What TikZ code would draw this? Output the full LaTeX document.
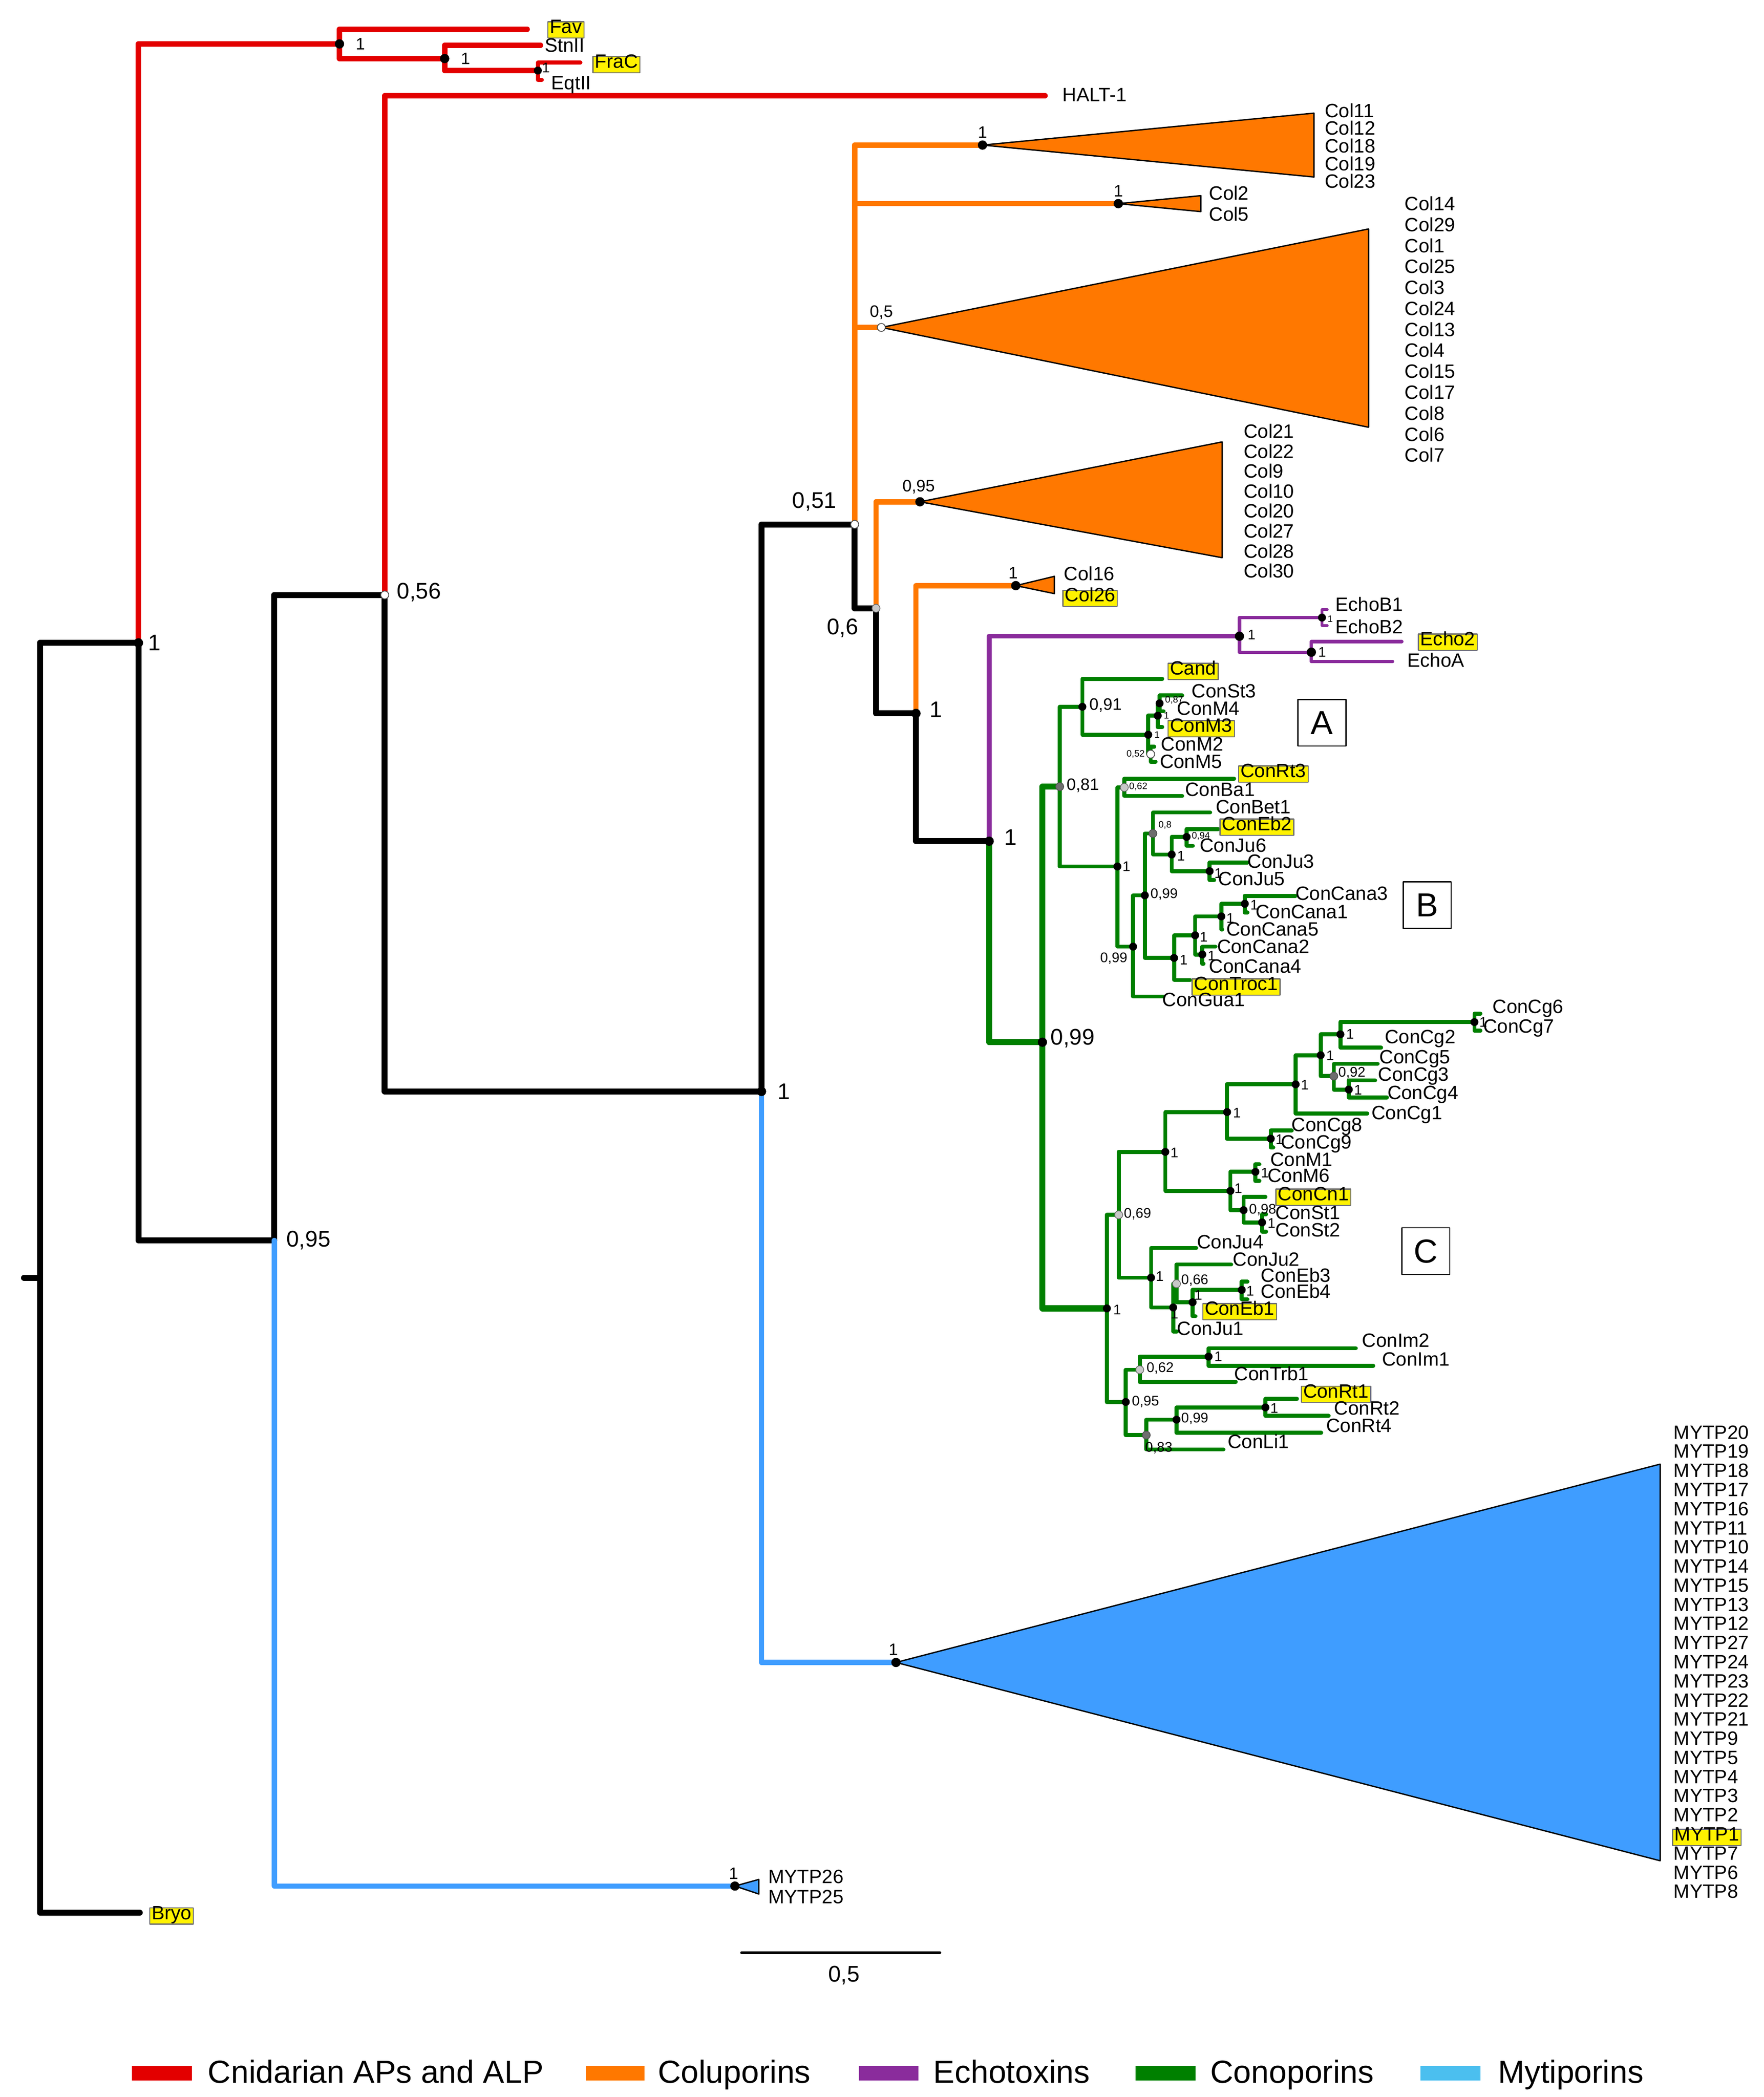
\documentclass[tikz,border=0pt]{standalone}
\usepackage{fontspec}
\setmainfont{Liberation Sans}
\definecolor{cred}{HTML}{E30000}
\definecolor{cor}{HTML}{FF7800}
\definecolor{cpu}{HTML}{8A2C9C}
\definecolor{cgr}{HTML}{008000}
\definecolor{cbl}{HTML}{3F9DFF}
\definecolor{clb}{HTML}{4BBFEF}
\definecolor{cgy}{HTML}{6E6E6E}
\definecolor{clg}{HTML}{C8C8C8}
\newcommand\cn[3]{\coordinate (#1) at (#2,#3);}
\newcommand\br[3][]{\draw[#1] (#2) |- (#3);}
\newcommand\fL{\fontsize{17}{17}\selectfont}
\newcommand\fM{\fontsize{12.5}{12.5}\selectfont}
\newcommand\fS{\fontsize{10.5}{10.5}\selectfont}
\newcommand\fT{\fontsize{7}{7}\selectfont}
\newcommand\fTip{\fontsize{14.5}{14.5}\selectfont}
\tikzset{
 every path/.style={line cap=round,line join=round},
 K/.style={line width=4.5pt,black},
 R/.style={line width=4pt,cred},
 O/.style={line width=4pt,cor},
 P/.style={line width=3.5pt,cpu},
 G/.style={line width=4.5pt,cgr},
 g/.style={line width=3pt,cgr},
 B/.style={line width=4pt,cbl},
 lab/.style={anchor=west,font=\fTip,inner sep=1pt,text height=0.72em,text depth=0.2em,yshift=-1.5pt},
 hl/.style={lab,fill=yellow,draw=cgy,line width=0.8pt,inner sep=1.5pt},
 sup/.style={anchor=west,inner sep=1pt},
 tri/.style={draw=black,line width=1pt}
}
\begin{document}
\begin{tikzpicture}[x=1pt,y=-1pt]
\useasboundingbox (0,0) rectangle (1325,1575.5);
% ---------- coordinates
\cn{root}{30}{960}\cn{rs}{18}{960}
\cn{n1}{104}{483}\cn{bryo}{105}{1437}
\cn{nfav}{255}{33}\cn{tfav}{396}{22}\cn{nstn}{334}{44}\cn{tstn}{406}{34}
\cn{neqt}{404}{53}\cn{tfrac}{436}{47}\cn{teqt}{407}{60}
\cn{n095}{206}{932}\cn{n056}{289}{447}\cn{thalt}{785}{72}
\cn{n572}{572}{820}\cn{n051}{642}{394}
\cn{c1}{738}{109}\cn{c2}{840}{153}\cn{c3}{662}{246}
\cn{n06}{658}{457}\cn{c4}{691}{377}\cn{n688}{688}{536}\cn{c5}{763}{440}
\cn{n743}{743}{632}
\cn{e1}{931}{478}\cn{eb}{993}{464}\cn{techb1}{997}{458}\cn{techb2}{997}{470}
\cn{ea}{985}{490}\cn{te2}{1053}{482}\cn{tea}{1046}{497}
\cn{n099}{783}{783}
\cn{n081}{796}{591}\cn{n091}{813}{531}\cn{tcand}{873}{510}
\cn{nm}{862.5}{552}\cn{na}{869.6}{537.7}\cn{n087}{871}{528.4}
\cn{tst3}{888}{522.5}\cn{tm4}{874}{534.3}\cn{tm3}{873}{546.2}
\cn{nb}{864.3}{566.6}\cn{tm2}{867}{561}\cn{tm5}{868}{572.3}
\cn{nB}{839.3}{651}\cn{n062}{844.5}{591.6}\cn{trt3}{927}{585.1}\cn{tba1}{888}{598}
\cn{nB2}{851.1}{711.2}\cn{nB3}{859.9}{672.7}
\cn{n08}{866}{626.2}\cn{tbet1}{909}{610.4}
\cn{nj}{880.1}{642}\cn{n094}{891.3}{628.8}\cn{teb2x}{915}{622.9}\cn{tju6}{896}{635.5}
\cn{nj35}{908.6}{654.5}\cn{tju3}{937}{648}\cn{tju5}{912}{661.2}
\cn{nc}{881.9}{719.7}\cn{nc1}{897.7}{702.7}\cn{nc2}{917.4}{688.5}\cn{nc3}{935}{679}
\cn{tca3}{973}{673.1}\cn{tca1}{937}{685.5}\cn{tca5}{918}{698.4}
\cn{nc4}{903.1}{717.1}\cn{tca2}{913}{711.2}\cn{tca4}{904}{724}
\cn{ttroc}{894}{736.3}\cn{tgua}{874}{748.7}
\cn{nC}{831.4}{983}\cn{n069}{840.3}{912.7}\cn{nq}{875.3}{865.4}
\cn{nq1}{921.7}{835.5}\cn{nq2}{973.2}{814.7}\cn{nq3}{992}{792.8}\cn{nq4}{1006.8}{777.1}
\cn{nq5}{1107.5}{767.9}\cn{tcg6}{1112}{761.7}\cn{tcg7}{1112}{774.4}\cn{tcg2}{1037.4}{787.1}
\cn{n092}{1001.9}{808.5}\cn{tcg5}{1034.8}{799.3}\cn{nq6}{1013.1}{818.6}
\cn{tcg3}{1032.9}{811.7}\cn{tcg4}{1041.8}{824.6}\cn{tcg1}{1027}{836.6}
\cn{nq7}{954.5}{855.5}\cn{tcg8}{970.3}{849.3}\cn{tcg9}{956.4}{862}
\cn{nm1}{924.2}{894.7}\cn{nm2}{943}{880.4}\cn{tm1}{946}{874.6}\cn{tm6}{946}{887.3}
\cn{n098}{934.1}{909.2}\cn{tcn1}{950.5}{899.3}\cn{nst}{948}{918.4}\cn{tst1}{951}{912.2}\cn{tst2}{951}{925.4}
\cn{nj4}{864.6}{959.9}\cn{tju4}{898.6}{937.6}\cn{nj1}{881.2}{982.3}\cn{n066}{883.7}{964.5}
\cn{tju1}{884}{1000.3}\cn{tju2}{924.8}{950}\cn{ne1}{895.8}{978.4}\cn{ne34}{932.7}{969.1}
\cn{teb3}{937}{962.9}\cn{teb4}{937}{976.1}\cn{tconeb1}{898}{988.8}
\cn{n095c}{845.6}{1053.3}\cn{n062c}{856.1}{1029.1}\cn{nim}{907.8}{1019.2}
\cn{tim2}{1018.4}{1012.9}\cn{tim1}{1031.5}{1026.1}\cn{ttrb}{928.2}{1038.3}
\cn{n083}{861}{1078.2}\cn{nr}{883.7}{1066.6}\cn{nr1}{950.5}{1057.4}
\cn{trt1}{974.2}{1051}\cn{trt2}{998}{1063.7}\cn{trt4}{992.4}{1076.4}\cn{tli}{919}{1089}
\cn{my}{673}{1249}\cn{my2}{552}{1417}
% ---------- branches
\draw[K] (rs) -- (root);
\br[K]{root}{n1}\br[K]{root}{bryo}
\br[R]{n1}{nfav}\br[K]{n1}{n095}
\br[R]{nfav}{tfav}\br[R]{nfav}{nstn}\br[R]{nstn}{tstn}\br[R]{nstn}{neqt}
\br[R,line width=3pt]{neqt}{tfrac}\br[R,line width=3pt]{neqt}{teqt}
\br[K]{n095}{n056}\br[B]{n095}{my2}
\br[R]{n056}{thalt}\br[K]{n056}{n572}
\br[K]{n572}{n051}\br[B]{n572}{my}
\br[O]{n051}{c1}\br[O]{n051}{c2}\br[O]{n051}{c3}\br[K]{n051}{n06}
\br[O]{n06}{c4}\br[K]{n06}{n688}
\br[O]{n688}{c5}\br[K]{n688}{n743}
\br[P]{n743}{e1}\br[G]{n743}{n099}
\br[P,line width=2.5pt]{e1}{eb}\br[P,line width=2.5pt]{e1}{ea}
\br[P,line width=2pt]{eb}{techb1}\br[P,line width=2pt]{eb}{techb2}
\br[P,line width=2.5pt]{ea}{te2}\br[P,line width=2.5pt]{ea}{tea}
\br[G]{n099}{n081}\br[G]{n099}{nC}
% A/B
\br[g]{n081}{n091}\br[g]{n081}{nB}
\br[g]{n091}{tcand}\br[g]{n091}{nm}
\br[g]{nm}{na}\br[g]{nm}{nb}\br[g]{na}{n087}\br[g]{na}{tm3}
\br[g]{n087}{tst3}\br[g]{n087}{tm4}\br[g]{nb}{tm2}\br[g]{nb}{tm5}
\br[g]{nB}{n062}\br[g]{nB}{nB2}\br[g]{n062}{trt3}\br[g]{n062}{tba1}
\br[g]{nB2}{nB3}\br[g]{nB2}{tgua}
\br[g]{nB3}{n08}\br[g]{nB3}{nc}
\br[g]{n08}{tbet1}\br[g]{n08}{nj}
\br[g]{nj}{n094}\br[g]{nj}{nj35}\br[g]{n094}{teb2x}\br[g]{n094}{tju6}
\br[g]{nj35}{tju3}\br[g]{nj35}{tju5}
\br[g]{nc}{nc1}\br[g]{nc}{ttroc}\br[g]{nc1}{nc2}\br[g]{nc1}{nc4}
\br[g]{nc2}{nc3}\br[g]{nc2}{tca5}\br[g]{nc3}{tca3}\br[g]{nc3}{tca1}
\br[g]{nc4}{tca2}\br[g]{nc4}{tca4}
% C
\br[g]{nC}{n069}\br[g]{nC}{n095c}
\br[g]{n069}{nq}\br[g]{n069}{nj4}
\br[g]{nq}{nq1}\br[g]{nq}{nm1}
\br[g]{nq1}{nq2}\br[g]{nq1}{nq7}
\br[g]{nq2}{nq3}\br[g]{nq2}{tcg1}
\br[g]{nq3}{nq4}\br[g]{nq3}{n092}
\br[g]{nq4}{nq5}\br[g]{nq4}{tcg2}\br[g]{nq5}{tcg6}\br[g]{nq5}{tcg7}
\br[g]{n092}{tcg5}\br[g]{n092}{nq6}\br[g]{nq6}{tcg3}\br[g]{nq6}{tcg4}
\br[g]{nq7}{tcg8}\br[g]{nq7}{tcg9}
\br[g]{nm1}{nm2}\br[g]{nm1}{n098}\br[g]{nm2}{tm1}\br[g]{nm2}{tm6}
\br[g]{n098}{tcn1}\br[g]{n098}{nst}\br[g]{nst}{tst1}\br[g]{nst}{tst2}
\br[g]{nj4}{tju4}\br[g]{nj4}{nj1}
\br[g]{nj1}{n066}\br[g]{nj1}{tju1}
\br[g]{n066}{tju2}\br[g]{n066}{ne1}
\br[g]{ne1}{ne34}\br[g]{ne1}{tconeb1}\br[g]{ne34}{teb3}\br[g]{ne34}{teb4}
\br[g]{n095c}{n062c}\br[g]{n095c}{n083}
\br[g]{n062c}{nim}\br[g]{n062c}{ttrb}\br[g]{nim}{tim2}\br[g]{nim}{tim1}
\br[g]{n083}{nr}\br[g]{n083}{tli}
\br[g]{nr}{nr1}\br[g]{nr}{trt4}\br[g]{nr1}{trt1}\br[g]{nr1}{trt2}
% ---------- triangles
\filldraw[tri,fill=cor] (c1) -- (987,85) -- (987,133) -- cycle;
\filldraw[tri,fill=cor] (c2) -- (902,147) -- (902,159) -- cycle;
\filldraw[tri,fill=cor] (c3) -- (1028,172) -- (1028,321) -- cycle;
\filldraw[tri,fill=cor] (c4) -- (918,332) -- (918,419) -- cycle;
\filldraw[tri,fill=cor] (c5) -- (792,433) -- (792,446) -- cycle;
\filldraw[tri,fill=cbl] (my) -- (1247,1100) -- (1247,1398) -- cycle;
\filldraw[tri,fill=cbl] (my2) -- (570,1412) -- (570,1423) -- cycle;
% ---------- node dots
\foreach \p in {n1,n572,n688,n743,n099,nfav,nstn,c1,c2,c4,c5,e1,ea,my,my2}{\fill[black] (\p) circle (3.5pt);}
\foreach \p in {neqt,eb,n091,nm,na,nB,nB2,nB3,nj,n094,nj35,nc,nc1,nc2,nc3,nc4,nC,nq,nq1,nq2,nq3,nq4,nq5,nq6,nq7,nm1,nm2,n098,nst,nj4,nj1,ne1,ne34,nim,nr,nr1,n095c,n087}{\fill[black] (\p) circle (3pt);}
\foreach \p in {n081,n08,n092,n083}{\filldraw[fill=cgy,draw=black!70,line width=0.5pt] (\p) circle (3pt);}
\foreach \p in {n062,n069,n066,n062c,n06}{\filldraw[fill=clg,draw=black!60,line width=0.5pt] (\p) circle (3pt);}
\foreach \p in {n051,n056,c3,nb}{\filldraw[fill=white,draw=black!70,line width=0.6pt] (\p) circle (3pt);}
% ---------- support values
\node[sup,font=\fL] (s1) at (110,483) {1};
\node[sup,font=\fL] (s2) at (214,932) {0,95};
\node[sup,font=\fL] (s3) at (297,445) {0,56};
\node[sup,font=\fL] (s4) at (583,820) {1};
\node[sup,font=\fL] (s5) at (594,377) {0,51};
\node[sup,font=\fL] (s6) at (620,472) {0,6};
\node[sup,font=\fL] (s7) at (697,533) {1};
\node[sup,font=\fL] (s8) at (753,629) {1};
\node[sup,font=\fL] (s9) at (788,780) {0,99};
\node[sup,font=\fM] (s10) at (266,33) {1};
\node[sup,font=\fM] (s11) at (345,44) {1};
\node[sup,font=\fS] (s12) at (406,51) {1};
\node[sup,font=\fM,anchor=south] (s13) at (738,105) {1};
\node[sup,font=\fM,anchor=south] (s14) at (840,149) {1};
\node[sup,font=\fM,anchor=south] (s15) at (662,241) {0,5};
\node[sup,font=\fM,anchor=south] (s16) at (690,372) {0,95};
\node[sup,font=\fM,anchor=south] (s17) at (761,436) {1};
\node[sup,font=\fM,anchor=south] (s18) at (671,1245) {1};
\node[sup,font=\fM,anchor=south] (s19) at (551,1413) {1};
\node[sup,font=\fS] (s20) at (936,477) {1};
\node[sup,font=\fT] (s21) at (996,465) {1};
\node[sup,font=\fS] (s22) at (989,490) {1};
\node[sup,font=\fM] (s23) at (817,530) {0,91};
\node[sup,font=\fM] (s24) at (800,590) {0,81};
\node[sup,font=\fT] (s25) at (874,526) {0,87};
\node[sup,font=\fT] (s26) at (873,537.5) {1};
\node[sup,font=\fT] (s27) at (866,552) {1};
\node[sup,font=\fT,anchor=east] (s28) at (861,566.6) {0,52};
\node[sup,font=\fT] (s29) at (847,591) {0,62};
\node[sup,font=\fS] (s30) at (842,651) {1};
\node[sup,font=\fS,anchor=east] (s31) at (848,720) {0,99};
\node[sup,font=\fS] (s32) at (863,672) {0,99};
\node[sup,font=\fT] (s33) at (869,620) {0,8};
\node[sup,font=\fT] (s34) at (894,628) {0,94};
\node[sup,font=\fS] (s35) at (883,643) {1};
\node[sup,font=\fS] (s36) at (911,656) {1};
\node[sup,font=\fS] (s37) at (938,680) {1};
\node[sup,font=\fS] (s38) at (920,690) {1};
\node[sup,font=\fS] (s39) at (900,704) {1};
\node[sup,font=\fS] (s40) at (906,718) {1};
\node[sup,font=\fS] (s41) at (885,721) {1};
\node[sup,font=\fS] (s42) at (835,984) {1};
\node[sup,font=\fS] (s43) at (843,912) {0,69};
\node[sup,font=\fS] (s44) at (878,866) {1};
\node[sup,font=\fS] (s45) at (925,836) {1};
\node[sup,font=\fS] (s46) at (976,815) {1};
\node[sup,font=\fS] (s47) at (995,793) {1};
\node[sup,font=\fS] (s48) at (1010,777) {1};
\node[sup,font=\fS] (s49) at (1110,768) {1};
\node[sup,font=\fS] (s50) at (1004,806) {0,92};
\node[sup,font=\fS] (s51) at (1016,819) {1};
\node[sup,font=\fS] (s52) at (957,856) {1};
\node[sup,font=\fS] (s53) at (926,893) {1};
\node[sup,font=\fS] (s54) at (946,881) {1};
\node[sup,font=\fS] (s55) at (937,909) {0,98};
\node[sup,font=\fS] (s56) at (951,919) {1};
\node[sup,font=\fS] (s57) at (867,959) {1};
\node[sup,font=\fS] (s58) at (886,962) {0,66};
\node[sup,font=\fS] (s59) at (935,970) {1};
\node[sup,font=\fS] (s60) at (896,973) {1};
\node[sup,font=\fS] (s61) at (878,987) {1};
\node[sup,font=\fS] (s62) at (911,1019) {1};
\node[sup,font=\fS] (s63) at (860,1028) {0,62};
\node[sup,font=\fS] (s64) at (849,1053) {0,95};
\node[sup,font=\fS] (s65) at (953,1058) {1};
\node[sup,font=\fS] (s66) at (886,1066) {0,99};
\node[sup,font=\fS] (s67) at (859,1088) {0,83};
% ---------- tip labels
\node[hl] (lfav) at (411,21) {Fav};
\node[lab] (lstn) at (408,35) {StnII};
\node[hl] (lfrac) at (445,47) {FraC};
\node[lab] (leqt) at (413,63) {EqtII};
\node[lab] (lhalt) at (797,72) {HALT-1};
\node[hl] (lbryo) at (112,1438) {Bryo};
\foreach \t [count=\i from 0] in {Col11,Col12,Col18,Col19,Col23}{\node[lab] at (994,84+\i*13.3) {\t};}
\node[lab] (lc2) at (907,146) {Col2};
\node[lab] (lc5) at (907,162) {Col5};
\foreach \t [count=\i from 0] in {Col14,Col29,Col1,Col25,Col3,Col24,Col13,Col4,Col15,Col17,Col8,Col6,Col7}{\node[lab] at (1054,154+\i*15.75) {\t};}
\foreach \t [count=\i from 0] in {Col21,Col22,Col9,Col10,Col20,Col27,Col28,Col30}{\node[lab] at (933,325+\i*15) {\t};}
\node[lab] (lc16) at (798,432) {Col16};
\node[hl] (lc26) at (798,448) {Col26};
\node[lab] (leb1) at (1002,455) {EchoB1};
\node[lab] (leb2) at (1002,472) {EchoB2};
\node[hl] (le2) at (1065,481) {Echo2};
\node[lab] (lea) at (1056,497) {EchoA};
\node[hl] (lcand) at (877,503) {Cand};
\node[lab] (l1) at (894,520) {ConSt3};
\node[lab] (l2) at (883,533) {ConM4};
\node[hl] (l3) at (877,546) {ConM3};
\node[lab] (l4) at (871,560) {ConM2};
\node[lab] (l5) at (870,573) {ConM5};
\node[hl] (l6) at (930,580) {ConRt3};
\node[lab] (l7) at (889,594) {ConBa1};
\node[lab] (l8) at (912,607) {ConBet1};
\node[hl] (l9) at (916,620) {ConEb2};
\node[lab] (l10) at (900,636) {ConJu6};
\node[lab] (l11) at (936,648) {ConJu3};
\node[lab] (l12) at (914,661) {ConJu5};
\node[lab] (l13) at (972,672) {ConCana3};
\node[lab] (l14) at (942,686) {ConCana1};
\node[lab] (l15) at (920,699) {ConCana5};
\node[lab] (l16) at (913,712) {ConCana2};
\node[lab] (l17) at (907,727) {ConCana4};
\node[hl] (l18) at (895,740) {ConTroc1};
\node[lab] (l19) at (872,752) {ConGua1};
\node[lab] (l20) at (1120,757) {ConCg6};
\node[lab] (l21) at (1113,772) {ConCg7};
\node[lab] (l22) at (1039,780) {ConCg2};
\node[lab] (l23) at (1035,795) {ConCg5};
\node[lab] (l24) at (1034,808) {ConCg3};
\node[lab] (l25) at (1041,822) {ConCg4};
\node[lab] (l26) at (1029,837) {ConCg1};
\node[lab] (l27) at (969,846) {ConCg8};
\node[lab] (l28) at (961,859) {ConCg9};
\node[lab] (l29) at (953,872) {ConM1};
\node[lab] (l30) at (951,884) {ConM6};
\node[hl] (l31) at (958,898) {ConCn1};
\node[lab] (l32) at (957,912) {ConSt1};
\node[lab] (l33) at (957,925) {ConSt2};
\node[lab] (l34) at (898,934) {ConJu4};
\node[lab] (l35) at (925,947) {ConJu2};
\node[lab] (l36) at (946,959) {ConEb3};
\node[lab] (l37) at (946,971) {ConEb4};
\node[hl] (l38) at (903,984) {ConEb1};
\node[lab] (l39) at (883,999) {ConJu1};
\node[lab] (l40) at (1022,1008) {ConIm2};
\node[lab] (l41) at (1037,1022) {ConIm1};
\node[lab] (l42) at (926,1033) {ConTrb1};
\node[hl] (l43) at (977,1046) {ConRt1};
\node[lab] (l44) at (1001,1059) {ConRt2};
\node[lab] (l45) at (995,1072) {ConRt4};
\node[lab] (l46) at (921,1084) {ConLi1};
\foreach \t [count=\i from 0] in {MYTP20,MYTP19,MYTP18,MYTP17,MYTP16,MYTP11,MYTP10,MYTP14,MYTP15,MYTP13,MYTP12,MYTP27,MYTP24,MYTP23,MYTP22,MYTP21,MYTP9,MYTP5,MYTP4,MYTP3,MYTP2}{\node[lab] at (1256,1077+\i*14.375) {\t};}
\node[hl] (lmy1) at (1256,1379) {MYTP1};
\foreach \t [count=\i from 22] in {MYTP7,MYTP6,MYTP8}{\node[lab] at (1256,1077+\i*14.375) {\t};}
\node[lab] (lm26) at (576,1411) {MYTP26};
\node[lab] (lm25) at (576,1426) {MYTP25};
% ---------- boxes
\tikzset{bx/.style={draw=black,line width=0.9pt,minimum width=36pt,minimum height=35pt,font=\fontsize{25}{25}\selectfont,inner sep=0pt}}
\node[bx] (bA) at (993,543) {A};
\node[bx] (bB) at (1072,680) {B};
\node[bx] (bC) at (1071,940) {C};
% ---------- scale
\coordinate (sa) at (557,1467); \coordinate (sb) at (706,1467);
\draw[line width=2pt] (sa) -- (sb);
\node[font=\fL] (sl) at (634,1484) {0,5};
% ---------- legend
\tikzset{leg/.style={anchor=base west,font=\fontsize{24}{24}\selectfont,inner sep=0pt}}
\fill[cred] (99,1552) rectangle (144,1563); \node[leg] (g1) at (156,1565) {Cnidarian APs and ALP};
\fill[cor] (440,1552) rectangle (484,1563); \node[leg] (g2) at (494,1565) {Coluporins};
\fill[cpu] (645,1552) rectangle (690,1563); \node[leg] (g3) at (701,1565) {Echotoxins};
\fill[cgr] (853,1552) rectangle (898,1563); \node[leg] (g4) at (909,1565) {Conoporins};
\fill[clb] (1067,1552) rectangle (1112,1563); \node[leg] (g5) at (1125,1565) {Mytiporins};
\end{tikzpicture}
\end{document}
